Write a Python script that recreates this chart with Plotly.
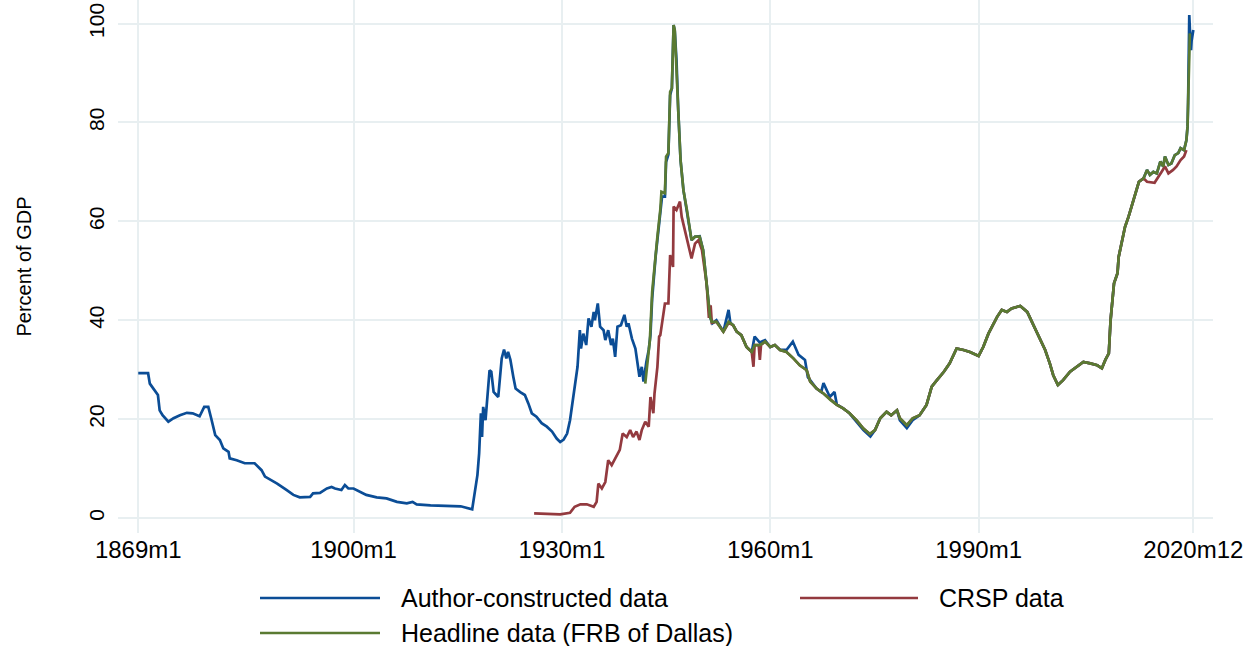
import plotly.graph_objects as go

# ---------------------------------------------------------------------------
# Data (dates in Stata monthly notation, values in percent of GDP)
# ---------------------------------------------------------------------------
tick_labels = ["1869m1", "1900m1", "1930m1", "1960m1", "1990m1", "2020m12"]
y_ticks = [0, 20, 40, 60, 80, 100]

# Author-constructed series, 1869-1942
author_pre_dates = [
    "1869m1", "1870m6", "1870m9", "1871m3", "1871m11", "1872m2", "1872m7", "1873m5",
    "1874m2", "1875m1", "1876m1", "1876m11", "1877m11", "1878m7", "1879m2", "1879m7",
    "1880m2", "1880m10", "1881m4", "1882m1", "1882m3", "1883m3", "1884m5", "1885m10",
    "1886m10", "1887m4", "1889m1", "1890m5", "1891m5", "1892m4", "1893m10", "1894m3",
    "1895m3", "1896m3", "1896m11", "1897m5", "1898m4", "1898m10", "1899m4", "1900m1",
    "1901m1", "1901m11", "1903m5", "1904m10", "1906m4", "1907m9", "1908m7", "1909m2",
    "1911m2", "1913m6", "1915m6", "1917m2", "1917m6", "1917m11", "1918m2", "1918m5",
    "1918m7", "1918m9", "1919m1", "1919m3", "1919m8", "1919m11", "1920m3", "1920m11",
    "1921m2", "1921m5", "1921m9", "1922m1", "1922m4", "1922m8", "1923m1", "1923m5",
    "1924m1", "1924m9", "1925m3", "1925m9", "1926m5", "1927m2", "1927m11", "1928m8",
    "1929m4", "1929m10", "1930m4", "1930m10", "1931m3", "1931m9", "1931m11", "1932m4",
    "1932m8", "1932m10", "1933m2", "1933m7", "1933m11", "1934m4", "1934m8", "1934m10",
    "1935m3", "1935m7", "1936m1", "1936m4", "1936m9", "1937m2", "1937m5", "1937m9",
    "1938m1", "1938m7", "1939m1", "1939m5", "1939m8", "1940m2", "1940m8", "1940m11",
    "1941m3", "1941m7", "1941m10",
]
author_pre_vals = [
    29.3, 29.3, 27.2, 26.2, 24.9, 21.8, 20.8, 19.5,
    20.2, 20.8, 21.3, 21.2, 20.6, 22.5, 22.5, 20.2,
    16.8, 15.8, 14.1, 13.4, 12.1, 11.7, 11.1, 11.1,
    9.7, 8.4, 7.0, 5.7, 4.7, 4.2, 4.3, 5.0,
    5.1, 6.0, 6.3, 6.0, 5.7, 6.7, 6.0, 6.0,
    5.3, 4.7, 4.2, 4.0, 3.3, 3.0, 3.3, 2.8,
    2.6, 2.5, 2.4, 1.8, 5.0, 8.7, 13.1, 21.2,
    16.4, 22.5, 19.8, 22.5, 29.9, 29.6, 25.5, 24.5,
    28.6, 32.3, 34.1, 32.3, 33.6, 32.0, 28.6, 26.2,
    25.5, 24.9, 23.2, 21.2, 20.5, 19.2, 18.5, 17.5,
    16.1, 15.4, 15.9, 17.1, 19.8, 24.9, 25.5, 30.6,
    38.0, 34.3, 37.3, 35.0, 40.4, 38.7, 41.7, 40.0,
    43.4, 38.7, 38.0, 36.0, 38.0, 35.0, 36.3, 32.6,
    38.7, 39.0, 41.1, 38.7, 39.4, 36.3, 34.3, 31.6,
    28.6, 30.6, 27.6,
]

# Author-constructed series, 1942-1981
author_mid_dates = [
    "1942m3", "1942m7", "1942m10", "1943m1", "1943m7", "1943m10", "1944m3", "1944m6",
    "1944m11", "1945m1", "1945m5", "1945m6", "1945m8", "1945m11", "1946m2", "1946m4",
    "1946m7", "1946m10", "1947m2", "1947m7", "1948m1", "1948m7", "1948m9", "1949m3",
    "1949m11", "1950m5", "1950m11", "1951m5", "1951m9", "1952m4", "1953m4", "1954m1",
    "1954m4", "1954m9", "1955m3", "1955m11", "1956m8", "1957m5", "1957m10", "1958m7",
    "1959m4", "1960m1", "1960m9", "1961m6", "1962m5", "1963m4", "1964m2", "1965m1",
    "1965m6", "1966m9", "1967m5", "1967m9", "1968m8", "1969m4", "1969m8", "1970m7",
    "1971m6", "1972m6", "1973m6", "1974m6", "1975m2", "1975m11", "1976m10", "1977m6",
    "1978m4", "1978m9", "1979m9", "1980m7", "1981m7",
]
author_mid_vals = [
    31.6, 34.0, 37.0, 44.5, 53.0, 56.0, 61.0, 65.0,
    65.0, 72.0, 73.5, 79.0, 85.5, 86.9, 99.7, 98.5,
    92.6, 82.5, 72.4, 66.3, 62.3, 57.6, 56.2, 56.9,
    57.0, 54.2, 46.8, 40.7, 39.4, 40.0, 37.7, 42.1,
    39.5, 39.0, 37.7, 37.0, 34.6, 33.6, 36.7, 35.5,
    36.0, 34.6, 35.0, 34.0, 34.0, 35.7, 33.0, 32.0,
    28.5, 26.2, 25.5, 27.3, 24.5, 25.5, 23.0, 22.2,
    21.2, 19.5, 17.8, 16.5, 17.8, 20.2, 21.5, 20.8,
    21.8, 19.8, 18.2, 19.8, 20.8,
]

# Headline series (FRB of Dallas), 1942-1981
headline_mid_dates = [
    "1942m1", "1942m9", "1943m1", "1943m7", "1943m10", "1944m3", "1944m5", "1944m11",
    "1945m1", "1945m5", "1945m6", "1945m8", "1945m11", "1946m2", "1946m4", "1946m6",
    "1946m10", "1947m2", "1947m7", "1948m1", "1948m7", "1948m9", "1949m3", "1949m11",
    "1950m5", "1950m11", "1951m5", "1951m8", "1952m4", "1953m4", "1954m1", "1954m9",
    "1955m3", "1955m11", "1956m8", "1957m5", "1957m10", "1958m7", "1959m4", "1960m1",
    "1960m9", "1961m6", "1962m5", "1963m5", "1964m4", "1965m4", "1965m10", "1966m9",
    "1967m9", "1968m9", "1969m8", "1970m7", "1971m6", "1972m6", "1973m6", "1974m5",
    "1975m2", "1975m11", "1976m10", "1977m6", "1978m4", "1978m9", "1979m9", "1980m7",
    "1981m7",
]
headline_mid_vals = [
    27.2, 36.0, 45.8, 54.2, 56.9, 62.3, 66.0, 65.7,
    73.1, 73.8, 79.1, 86.2, 86.9, 99.7, 98.7, 92.6,
    82.5, 72.4, 66.3, 62.3, 57.6, 56.2, 56.9, 56.9,
    54.2, 46.8, 40.7, 39.7, 39.7, 37.7, 39.7, 39.0,
    37.7, 37.0, 34.6, 33.6, 35.0, 35.0, 35.7, 34.6,
    35.0, 34.0, 33.6, 32.3, 30.9, 29.9, 27.6, 26.2,
    25.2, 23.9, 22.9, 22.2, 21.2, 19.8, 18.1, 17.0,
    17.8, 20.2, 21.5, 20.8, 21.8, 20.2, 18.8, 20.2,
    20.8,
]

# Period where all three sources coincide, 1982-2013
shared_dates = [
    "1982m7", "1983m4", "1984m1", "1985m1", "1985m11", "1986m11", "1987m11", "1988m10",
    "1990m1", "1990m9", "1991m6", "1992m3", "1992m9", "1993m5", "1994m2", "1994m10",
    "1996m1", "1997m1", "1997m9", "1998m9", "1999m8", "2000m4", "2000m10", "2001m6",
    "2002m3", "2003m3", "2004m3", "2005m2", "2006m2", "2007m2", "2007m10", "2008m4",
    "2008m10", "2009m1", "2009m7", "2010m1", "2010m3", "2010m9", "2011m2", "2011m8",
    "2012m4", "2013m2", "2013m10",
]
shared_vals = [
    22.9, 26.6, 27.9, 29.6, 31.3, 34.3, 34.0, 33.6,
    32.8, 34.6, 37.3, 39.4, 40.7, 42.1, 41.7, 42.4,
    42.9, 41.7, 39.7, 36.7, 34.0, 31.3, 28.9, 26.9,
    27.9, 29.6, 30.6, 31.6, 31.3, 30.9, 30.3, 32.0,
    33.3, 40.0, 47.5, 49.5, 52.8, 56.2, 58.9, 60.9,
    64.3, 68.0, 68.7,
]

# Headline and author series, 2014-2019
late_dates = [
    "2014m4", "2014m9", "2015m3", "2015m9", "2016m3", "2016m8", "2016m11", "2017m5",
    "2017m10", "2018m4", "2018m10", "2019m2", "2019m8", "2019m12",
]
late_vals = [
    70.4, 69.4, 70.0, 69.7, 72.1, 71.1, 73.1, 71.4,
    71.7, 73.4, 73.8, 74.8, 74.4, 76.4,
]

# 2020
author_2020_dates = ["2020m1", "2020m2", "2020m3", "2020m4", "2020m5", "2020m6",
                     "2020m7", "2020m8", "2020m9", "2020m10", "2020m11", "2020m12"]
author_2020_vals = [77.5, 79.1, 84.0, 95.5, 101.7, 99.0, 96.0, 94.6, 96.5, 97.5, 98.2, 98.7]
headline_2020_dates = ["2020m1", "2020m2", "2020m3", "2020m4", "2020m5", "2020m6"]
headline_2020_vals = [77.5, 79.1, 84.0, 92.0, 97.3, 98.0]

# CRSP series, 1926-1958
crsp_early_dates = [
    "1926m1", "1929m10", "1931m3", "1931m11", "1932m9", "1933m8", "1934m8", "1935m1",
    "1935m4", "1935m10", "1936m4", "1936m9", "1937m3", "1937m9", "1938m5", "1938m10",
    "1939m5", "1939m11", "1940m4", "1940m10", "1941m3", "1941m7", "1942m1", "1942m7",
    "1942m10", "1943m3", "1943m5", "1943m10", "1944m1", "1944m3", "1944m11", "1945m5",
    "1945m8", "1946m1", "1946m2", "1946m7", "1947m1", "1947m4", "1947m8", "1948m4",
    "1948m9", "1949m3", "1949m9", "1950m3", "1950m11", "1951m3", "1951m6", "1951m8",
    "1952m4", "1953m4", "1954m1", "1954m9", "1955m3", "1955m11", "1956m8", "1957m5",
    "1957m8", "1957m10", "1958m5", "1958m7", "1958m9",
]
crsp_early_vals = [
    0.95, 0.75, 1.1, 2.3, 2.8, 2.8, 2.3, 3.3,
    7.0, 6.0, 7.3, 11.7, 10.7, 12.1, 13.8, 17.1,
    16.4, 17.8, 16.4, 17.5, 15.8, 17.8, 19.5, 18.5,
    24.5, 21.2, 25.2, 30.6, 36.7, 37.0, 43.4, 43.4,
    53.2, 50.8, 63.0, 62.3, 64.0, 60.9, 58.9, 55.5,
    52.5, 55.5, 56.2, 54.2, 47.5, 40.5, 43.0, 39.5,
    39.7, 37.7, 39.5, 39.0, 37.7, 37.0, 34.6, 33.6,
    30.6, 35.0, 35.0, 32.0, 35.0,
]

# CRSP series, 2014-2019
crsp_late_dates = ["2014m4", "2015m5", "2015m11", "2016m5", "2016m11", "2017m5",
                   "2018m1", "2018m7", "2019m2", "2019m8", "2019m12"]
crsp_late_vals = [68.0, 67.8, 69.0, 70.0, 71.1, 69.7, 70.4, 71.1, 72.4, 73.1, 74.4]


def tm(label):
    """Stata %tm value (months since 1960m1) of a 'YYYYmM' label."""
    year, month = label.split("m")
    return (int(year) - 1960) * 12 + int(month) - 1


def series(*parts):
    xs, ys = [], []
    for dates, vals in parts:
        xs += [tm(d) for d in dates]
        ys += list(vals)
    return xs, ys


# CRSP tracks the headline series between its early and late segments
crsp_bridge = [(d, v) for d, v in zip(headline_mid_dates, headline_mid_vals)
               if tm(d) > tm(crsp_early_dates[-1])]

author_x, author_y = series((author_pre_dates, author_pre_vals),
                            (author_mid_dates, author_mid_vals),
                            (shared_dates, shared_vals),
                            (late_dates, late_vals),
                            (author_2020_dates, author_2020_vals))
headline_x, headline_y = series((headline_mid_dates, headline_mid_vals),
                                (shared_dates, shared_vals),
                                (late_dates, late_vals),
                                (headline_2020_dates, headline_2020_vals))
crsp_x, crsp_y = series((crsp_early_dates, crsp_early_vals),
                        ([d for d, _ in crsp_bridge], [v for _, v in crsp_bridge]),
                        (shared_dates, shared_vals),
                        (crsp_late_dates, crsp_late_vals))

# ---------------------------------------------------------------------------
# Figure
# ---------------------------------------------------------------------------
BLUE, RED, GREEN = "#0b4d96", "#933a3f", "#5a7a32"
GRID = "#e8eff1"
FONT = "Liberation Sans, Arial, sans-serif"
W, H = 1257, 646
ML, MR, MT, MB = 118, 44, 0, 113
LINE_W = 2.7

traces = [
    ("Author-constructed data", author_x, author_y, BLUE),
    ("CRSP data", crsp_x, crsp_y, RED),
    ("Headline data (FRB of Dallas)", headline_x, headline_y, GREEN),
]

fig = go.Figure()
for name, xs, ys, color in traces:
    fig.add_trace(go.Scatter(x=xs, y=ys, mode="lines", name=name,
                             line=dict(color=color, width=LINE_W),
                             showlegend=False, hoverinfo="skip"))

plot_w = W - ML - MR
plot_h = H - MT - MB


def px_x(px):
    return (px - ML) / plot_w


def px_y(py):
    return (H - MB - py) / plot_h


# Legend: two columns, line key followed by the label
legend_layout = [
    (traces[0], 260, 380, 598),
    (traces[1], 800, 918, 598),
    (traces[2], 260, 380, 633),
]
for (name, _, _, color), x0, x1, yy in legend_layout:
    fig.add_shape(type="line", xref="paper", yref="paper",
                  x0=px_x(x0), x1=px_x(x1), y0=px_y(yy), y1=px_y(yy),
                  line=dict(color=color, width=LINE_W))
    fig.add_annotation(text=name, xref="paper", yref="paper",
                       x=px_x(x1 + 19), y=px_y(yy), xanchor="left", yanchor="middle",
                       showarrow=False, font=dict(family=FONT, size=25, color="black"))

# y-axis title
fig.add_annotation(text="Percent of GDP", xref="paper", yref="paper",
                   x=px_x(23), y=0.5, xanchor="center", yanchor="middle",
                   textangle=-90, showarrow=False,
                   font=dict(family=FONT, size=20, color="black"))

fig.update_layout(
    width=W, height=H,
    margin=dict(l=ML, r=MR, t=MT, b=MB, autoexpand=False),
    paper_bgcolor="white", plot_bgcolor="white",
    font=dict(family=FONT, color="black"),
    xaxis=dict(
        range=[tm(tick_labels[0]) - 35, tm(tick_labels[-1]) + 34],
        tickmode="array",
        tickvals=[tm(t) for t in tick_labels],
        ticktext=tick_labels,
        tickfont=dict(size=24),
        showgrid=True, gridcolor=GRID, gridwidth=2,
        zeroline=False, showline=False, ticks="",
    ),
    yaxis=dict(
        range=[-3.0, 104.75],
        tickmode="array",
        tickvals=y_ticks,
        tickangle=-90,
        tickfont=dict(size=21),
        ticklabelstandoff=9,
        showgrid=True, gridcolor=GRID, gridwidth=2,
        zeroline=False, showline=False, ticks="",
    ),
)

fig.write_html("out.html")
